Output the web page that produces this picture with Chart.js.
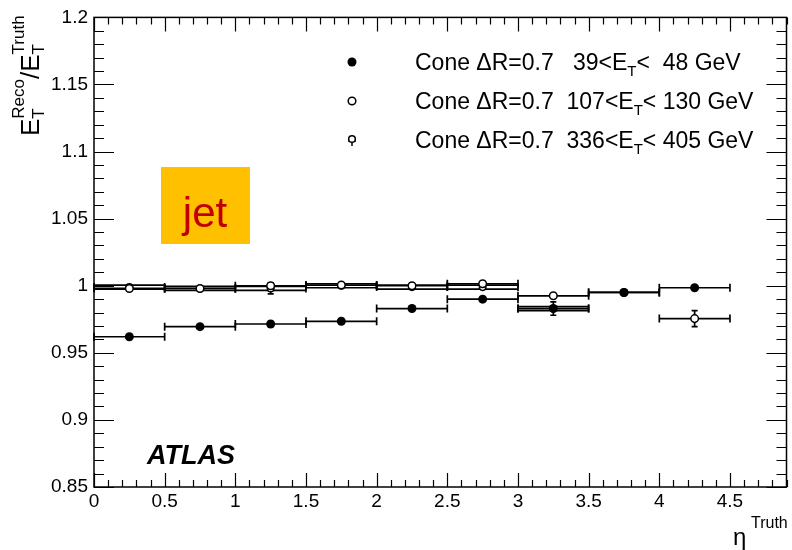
<!DOCTYPE html>
<html>
<head>
<meta charset="utf-8">
<script src="https://cdn.jsdelivr.net/npm/chart.js@4.4.0/dist/chart.umd.min.js"></script>
<style>
  html, body { margin: 0; padding: 0; background: #fff; }
  #wrap { width: 792px; height: 550px; position: relative; }
</style>
</head>
<body>
<div id="wrap"><canvas id="respChart"></canvas></div>
<script>
// eta bins
const binLow = [0, 0.5, 1, 1.5, 2, 2.5, 3, 3.5, 4];
const binHigh = [0.5, 1, 1.5, 2, 2.5, 3, 3.5, 4, 4.5];
const etaCenter = [0.25, 0.75, 1.25, 1.75, 2.25, 2.75, 3.25, 3.75, 4.25];

// response E_T(reco)/E_T(truth) per E_T range
const resp39to48 = [0.962, 0.9695, 0.9715, 0.9735, 0.983, 0.990, 0.983, 0.995, 0.9985];
const err39to48 = [0.001, 0.001, 0.001, 0.001, 0.001, 0.001, 0.001, 0.001, 0.001];
const resp107to130 = [0.998, 0.998, 1.000, 1.0005, 1.000, 1.0015, 0.9925, 0.995, 0.9755];
const err107to130 = [0.001, 0.001, 0.001, 0.001, 0.001, 0.001, 0.001, 0.001, 0.006];
const resp336to405 = [0.999, 0.998, 0.998, 1.000, 0.999, 0.999, 0.983];
const err336to405 = [0.002, 0.001, 0.004, 0.002, 0.002, 0.002, 0.005];

const xTickValues = [0, 0.5, 1, 1.5, 2, 2.5, 3, 3.5, 4, 4.5];
const xTickLabels = ['0', '0.5', '1', '1.5', '2', '2.5', '3', '3.5', '4', '4.5'];
const yTickValues = [0.85, 0.9, 0.95, 1, 1.05, 1.1, 1.15, 1.2];
const yTickLabels = ['0.85', '0.9', '0.95', '1', '1.05', '1.1', '1.15', '1.2'];

const legendEntries = [
  { pre: 'Cone \u0394R=0.7   39<E', post: '<  48 GeV', marker: 'filled' },
  { pre: 'Cone \u0394R=0.7  107<E', post: '< 130 GeV', marker: 'open' },
  { pre: 'Cone \u0394R=0.7  336<E', post: '< 405 GeV', marker: 'cross' },
];

const FONT = '"Liberation Sans", Arial, sans-serif';

function buildPoints(values, errors) {
  return values.map((v, i) => ({
    x: etaCenter[i],
    y: v,
    lo: binLow[i],
    hi: binHigh[i],
    err: errors[i],
  }));
}

// horizontal bin-width bars plus vertical stat errors, drawn under the markers
const errorBars = {
  id: 'errorBars',
  beforeDatasetsDraw(chart) {
    const { ctx, scales: { x, y } } = chart;
    ctx.save();
    ctx.strokeStyle = '#000';
    ctx.lineWidth = 1.7;
    chart.data.datasets.forEach((ds) => {
      ds.data.forEach((p) => {
        const x0 = x.getPixelForValue(p.lo);
        const x1 = x.getPixelForValue(p.hi);
        const py = y.getPixelForValue(p.y);
        ctx.beginPath();
        if (ds.boxed) {
          ctx.rect(x0, py - 2, x1 - x0, 4);
        } else {
          ctx.moveTo(x0, py);
          ctx.lineTo(x1, py);
        }
        ctx.moveTo(x0, py - 4);
        ctx.lineTo(x0, py + 4);
        ctx.moveTo(x1, py - 4);
        ctx.lineTo(x1, py + 4);
        const px = x.getPixelForValue(p.x);
        const yTop = y.getPixelForValue(p.y + p.err);
        const yBot = y.getPixelForValue(p.y - p.err);
        if (yBot - yTop > 6) {
          ctx.moveTo(px, yTop);
          ctx.lineTo(px, yBot);
          ctx.moveTo(px - 3, yTop);
          ctx.lineTo(px + 3, yTop);
          ctx.moveTo(px - 3, yBot);
          ctx.lineTo(px + 3, yBot);
        }
        ctx.stroke();
      });
    });
    ctx.restore();
  },
};

function drawMarker(ctx, kind, cx, cy) {
  ctx.save();
  ctx.strokeStyle = '#000';
  ctx.lineWidth = 1.5;
  if (kind === 'filled') {
    ctx.fillStyle = '#000';
    ctx.beginPath();
    ctx.arc(cx, cy, 4.5, 0, Math.PI * 2);
    ctx.fill();
  } else if (kind === 'open') {
    ctx.fillStyle = '#fff';
    ctx.beginPath();
    ctx.arc(cx, cy, 3.8, 0, Math.PI * 2);
    ctx.fill();
    ctx.stroke();
  } else {
    ctx.beginPath();
    ctx.moveTo(cx - 4, cy + 1);
    ctx.lineTo(cx + 4, cy + 1);
    ctx.moveTo(cx, cy + 1);
    ctx.lineTo(cx, cy + 6);
    ctx.stroke();
    ctx.fillStyle = '#fff';
    ctx.beginPath();
    ctx.arc(cx, cy - 1, 3.3, 0, Math.PI * 2);
    ctx.fill();
    ctx.stroke();
  }
  ctx.restore();
}

// frame, ROOT-style inward ticks, titles, legend and labels
const decorations = {
  id: 'decorations',
  afterDraw(chart) {
    const { ctx, chartArea: a, scales: { x, y } } = chart;
    ctx.save();
    ctx.strokeStyle = '#000';
    ctx.lineWidth = 1.5;
    ctx.strokeRect(a.left, a.top, a.right - a.left, a.bottom - a.top);

    ctx.lineWidth = 1.2;
    ctx.beginPath();
    for (let i = 0; i <= 49; i++) {
      const v = i / 10;
      const px = Math.round(x.getPixelForValue(v)) + 0.5;
      const len = i % 5 === 0 ? 14 : 7;
      ctx.moveTo(px, a.bottom);
      ctx.lineTo(px, a.bottom - len);
      ctx.moveTo(px, a.top);
      ctx.lineTo(px, a.top + len);
    }
    for (let i = 85; i <= 120; i++) {
      const v = i / 100;
      const py = Math.round(y.getPixelForValue(v)) + 0.5;
      const len = i % 5 === 0 ? 20 : 10;
      ctx.moveTo(a.left, py);
      ctx.lineTo(a.left + len, py);
      ctx.moveTo(a.right, py);
      ctx.lineTo(a.right - len, py);
    }
    ctx.stroke();

    // legend
    ctx.fillStyle = '#000';
    ctx.textBaseline = 'alphabetic';
    legendEntries.forEach((e, i) => {
      const ly = 62 + i * 39;
      drawMarker(ctx, e.marker, 352, ly);
      ctx.font = '23px ' + FONT;
      const base = ly + 8;
      ctx.fillText(e.pre, 415, base);
      let cx = 415 + ctx.measureText(e.pre).width;
      ctx.font = '15px ' + FONT;
      ctx.fillText('T', cx, base + 6);
      cx += ctx.measureText('T').width;
      ctx.font = '23px ' + FONT;
      ctx.fillText(e.post, cx, base);
    });

    // ATLAS label
    ctx.font = 'italic bold 27px ' + FONT;
    ctx.fillText('ATLAS', 147, 464);

    // jet tag
    ctx.fillStyle = '#FFC000';
    ctx.fillRect(161, 167, 89, 77);
    ctx.fillStyle = '#C00000';
    ctx.font = '42px ' + FONT;
    ctx.textAlign = 'center';
    ctx.fillText('jet', 205, 227);
    ctx.textAlign = 'left';

    // x title: eta^Truth
    ctx.fillStyle = '#000';
    ctx.font = '24px ' + FONT;
    ctx.fillText('\u03b7', 733, 545);
    ctx.font = '16px ' + FONT;
    ctx.fillText('Truth', 751, 528);

    // y title: E_T^Reco / E_T^Truth, rotated
    ctx.translate(39, 136);
    ctx.rotate(-Math.PI / 2);
    let tx = 0;
    ctx.font = '26px ' + FONT;
    ctx.fillText('E', tx, 0);
    tx += ctx.measureText('E').width;
    ctx.font = '17px ' + FONT;
    ctx.fillText('T', tx, 5);
    ctx.fillText('Reco', tx, -15);
    tx += ctx.measureText('Reco').width;
    ctx.font = '26px ' + FONT;
    ctx.fillText('/', tx, 0);
    tx += ctx.measureText('/').width;
    ctx.fillText('E', tx, 0);
    tx += ctx.measureText('E').width;
    ctx.font = '17px ' + FONT;
    ctx.fillText('T', tx, 5);
    ctx.fillText('Truth', tx, -15);
    ctx.restore();
  },
};

const ctx = document.getElementById('respChart').getContext('2d');
new Chart(ctx, {
  type: 'scatter',
  data: {
    datasets: [
      {
        label: '39-48 GeV',
        data: buildPoints(resp39to48, err39to48),
        pointStyle: 'circle',
        pointRadius: 4.5,
        backgroundColor: '#000',
        borderColor: '#000',
        borderWidth: 0,
      },
      {
        label: '107-130 GeV',
        data: buildPoints(resp107to130, err107to130),
        pointStyle: 'circle',
        pointRadius: 3.8,
        backgroundColor: '#fff',
        borderColor: '#000',
        borderWidth: 1.5,
      },
      {
        label: '336-405 GeV',
        data: buildPoints(resp336to405, err336to405),
        boxed: true,
        pointStyle: 'circle',
        pointRadius: 3.3,
        backgroundColor: '#fff',
        borderColor: '#000',
        borderWidth: 1.5,
      },
    ],
  },
  options: {
    responsive: true,
    maintainAspectRatio: false,
    animation: false,
    layout: { padding: { top: 14, right: 4, left: 0, bottom: 0 } },
    plugins: {
      legend: { display: false },
      tooltip: { enabled: false },
    },
    scales: {
      x: {
        type: 'linear',
        min: 0,
        max: 4.9,
        border: { display: false },
        grid: { display: false, drawTicks: false },
        afterBuildTicks(scale) {
          scale.ticks = xTickValues.map((v) => ({ value: v }));
        },
        afterFit(scale) { scale.height = 63; },
        ticks: {
          padding: 3,
          color: '#000',
          font: { family: FONT, size: 19 },
          maxRotation: 0,
          callback: (v, i) => xTickLabels[i],
        },
      },
      y: {
        type: 'linear',
        min: 0.85,
        max: 1.2,
        border: { display: false },
        grid: { display: false, drawTicks: false },
        afterBuildTicks(scale) {
          scale.ticks = yTickValues.map((v) => ({ value: v }));
        },
        afterFit(scale) { scale.width = 94; },
        ticks: {
          padding: 6,
          color: '#000',
          font: { family: FONT, size: 19 },
          callback: (v, i) => yTickLabels[i],
        },
      },
    },
  },
  plugins: [errorBars, decorations],
});
</script>
</body>
</html>
